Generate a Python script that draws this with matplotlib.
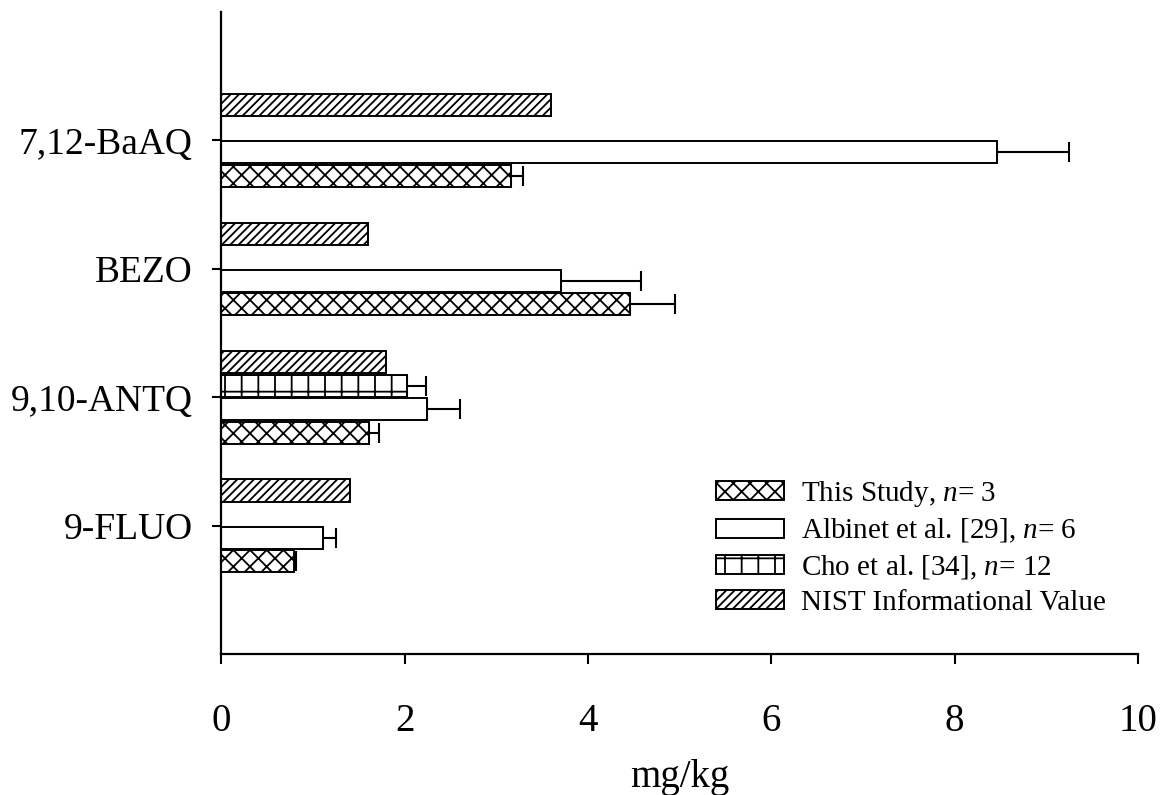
import matplotlib; matplotlib.use("Agg")
import matplotlib.pyplot as plt, numpy as np

plt.rcParams.update({"font.family":"serif","font.serif":["Liberation Serif","DejaVu Serif"],
 "mathtext.fontset":"custom","mathtext.rm":"Liberation Serif","mathtext.it":"Liberation Serif:italic",
 "hatch.linewidth":1.3,"axes.linewidth":1.6})

compounds=["9-FLUO","9,10-ANTQ","BEZO","7,12-BaAQ"]
this_study=[0.79,1.61,4.46,3.16]; this_err=[0.03,0.11,0.49,0.13]
albinet=[1.11,2.24,3.71,8.46]; albinet_err=[0.14,0.36,0.87,0.79]
cho=[np.nan,2.03,np.nan,np.nan]; cho_err=[np.nan,0.20,np.nan,np.nan]
nist=[1.40,1.80,1.60,3.60]

series=[("This Study, $n$= 3",this_study,this_err,"xx",-1.5),
        ("Albinet et al. [29], $n$= 6",albinet,albinet_err,"",-0.5),
        ("Cho et al. [34], $n$= 12",cho,cho_err,"+",0.5),
        ("NIST Informational Value",nist,None,"////",1.5)]
slot=0.183; h=0.172

fig=plt.figure(figsize=(11.63,7.95),dpi=100)
ax=fig.add_axes([0.1903,0.177,0.9785-0.1903,0.985-0.177])
y=np.arange(len(compounds))
for lab,vals,errs,hatch,off in series:
    v=np.array(vals,float); ok=~np.isnan(v); pos=y[ok]+off*slot
    ax.barh(pos,v[ok],h,color="white",edgecolor="black",lw=1.4,hatch=hatch,label=lab,zorder=2)
    if errs is not None:
        e=np.array(errs,float)[ok]
        ax.errorbar(v[ok],pos,xerr=[np.zeros_like(e),e],fmt="none",ecolor="black",
                    elinewidth=1.5,capsize=7.5,capthick=1.5,zorder=1)
ax.set_xlim(0,10); ax.set_ylim(-1,4)
ax.set_xticks(np.arange(0,11,2)); ax.set_yticks(y); ax.set_yticklabels(compounds)
ax.tick_params(axis="y",direction="out",length=6.5,width=1.5,labelsize=27,pad=14)
ax.tick_params(axis="x",direction="out",length=7,width=1.5,labelsize=28,pad=28)
ax.set_xlabel("mg/kg",fontsize=28,labelpad=14)
for s in ("top","right"): ax.spines[s].set_visible(False)
ax.legend(loc="lower right",bbox_to_anchor=(0.965,0.06),frameon=False,fontsize=21,
          handlelength=2.3,handleheight=0.6,handletextpad=0.6,labelspacing=0.28,
          borderpad=0,borderaxespad=0)
fig.savefig("out.png",dpi=100)
